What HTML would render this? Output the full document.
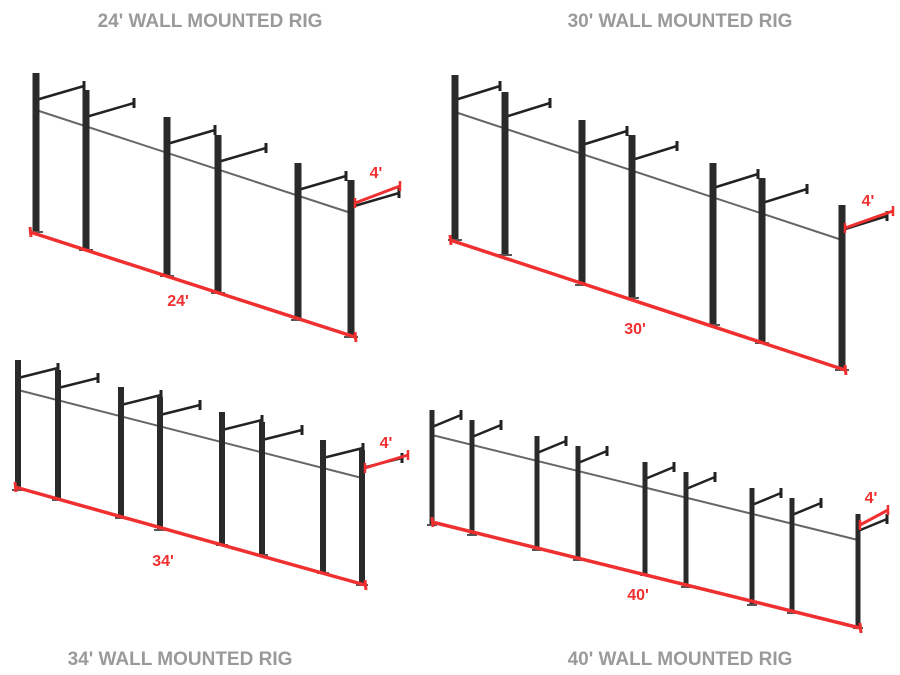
<!DOCTYPE html>
<html><head><meta charset="utf-8"><style>
body{margin:0;background:#fff;width:900px;height:675px;overflow:hidden}
svg{position:absolute;left:0;top:0}
.t{font-family:"Liberation Sans",sans-serif;font-weight:bold;fill:#9a9a9a;font-size:19px}
.r{font-family:"Liberation Sans",sans-serif;font-weight:bold;fill:#f03030;font-size:16px}
</style></head><body>
<svg id="s" width="900" height="675" xmlns="http://www.w3.org/2000/svg">
<text class="t" x="210" y="27" text-anchor="middle">24' WALL MOUNTED RIG</text>
<text class="t" x="680" y="27" text-anchor="middle">30' WALL MOUNTED RIG</text>
<text class="t" x="180" y="665" text-anchor="middle">34' WALL MOUNTED RIG</text>
<text class="t" x="680" y="665" text-anchor="middle">40' WALL MOUNTED RIG</text>
<text class="r" x="178" y="306" text-anchor="middle">24'</text>
<text class="r" x="376" y="178" text-anchor="middle">4'</text>
<text class="r" x="635" y="334" text-anchor="middle">30'</text>
<text class="r" x="868" y="206" text-anchor="middle">4'</text>
<text class="r" x="163" y="566" text-anchor="middle">34'</text>
<text class="r" x="386" y="448" text-anchor="middle">4'</text>
<text class="r" x="638" y="600" text-anchor="middle">40'</text>
<text class="r" x="871" y="503" text-anchor="middle">4'</text>
</svg>
<script>
var s=document.getElementById('s'),NS='http://www.w3.org/2000/svg';
function line(x1,y1,x2,y2,c,w){var e=document.createElementNS(NS,'line');e.setAttribute('x1',x1);e.setAttribute('y1',y1);e.setAttribute('x2',x2);e.setAttribute('y2',y2);e.setAttribute('stroke',c);e.setAttribute('stroke-width',w);s.appendChild(e);}
function rig(P,pw,cb,red,br,arm){
 line(cb[0],cb[1],cb[2],cb[3],'#666',2);
 P.forEach(function(p){
  var x=p[0],t=p[1],b=p[2];
  line(x,t+arm[0],x+arm[1],t+arm[0]-arm[2],'#222',2.5);
  line(x+arm[1],t+arm[0]-arm[2]-5,x+arm[1],t+arm[0]-arm[2]+5,'#222',3);
  var r=document.createElementNS(NS,'rect');r.setAttribute('x',x-pw/2);r.setAttribute('y',t);r.setAttribute('width',pw);r.setAttribute('height',b-t);r.setAttribute('fill','#2a2a2a');s.appendChild(r);
  line(x-pw,b,x+pw,b,'#555',2);
 });
 line(red[0],red[1],red[2],red[3],'#f03030',3.5);
 line(red[0],red[1]-5,red[0]+1,red[1]+5,'#f03030',3);
 line(red[2],red[3]-5,red[2]+1,red[3]+5,'#f03030',3);
 line(br[0],br[1],br[2],br[3],'#f03030',3);
 line(br[0],br[1]-5,br[0],br[1]+5,'#f03030',2.5);
 line(br[2],br[3]-5,br[2],br[3]+5,'#f03030',2.5);
}
rig([[36,73,232],[86,90,250],[167,117,276],[218,135,293],[298,163,320],[351,180,337]],7,[36,110,351,213],[30,232,355,337],[355,203,400,186],[27,48,14]);
rig([[455,75,240],[505,92,255],[582,120,285],[632,135,298],[713,163,325],[762,178,343],[842,205,370]],7,[455,112,842,240],[450,240,845,370],[845,228,893,211],[25,45,14]);
rig([[18,360,490],[58,370,500],[121,387,518],[160,397,530],[222,412,545],[262,422,555],[323,440,573],[362,450,585]],6,[18,390,362,478],[15,487,365,585],[365,468,408,455],[18,40,10]);
rig([[432,410,525],[472,420,535],[537,436,550],[578,446,560],[645,462,575],[686,472,587],[752,488,605],[792,498,613],[858,514,628]],5,[432,435,858,540],[432,522,860,628],[860,525,888,510],[17,29,12]);
</script>
</body></html>
